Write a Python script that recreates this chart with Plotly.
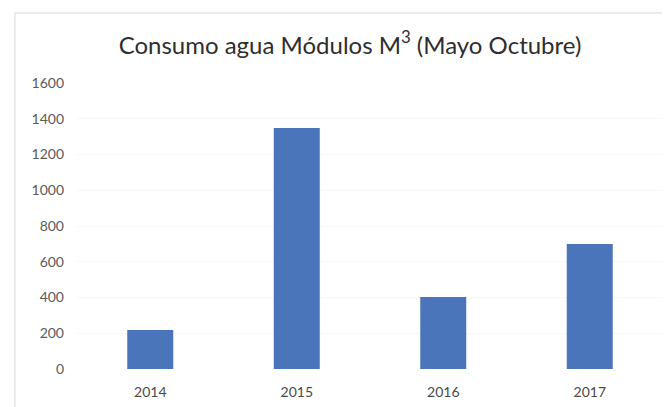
import plotly.graph_objects as go

years = ["2014", "2015", "2016", "2017"]
consumo = [218, 1348, 403, 699]
y_ticks = [0, 200, 400, 600, 800, 1000, 1200, 1400, 1600]

fig = go.Figure()
fig.add_trace(go.Bar(x=years, y=consumo, marker=dict(color="#4a75bb", line=dict(width=0)), width=0.314))

fig.update_layout(
    width=662, height=399,
    margin=dict(l=69, r=7, t=75, b=38),
    paper_bgcolor="white", plot_bgcolor="white",
    title=dict(text="Consumo agua Módulos M<sup>3</sup> (Mayo Octubre)", x=0.5166, xanchor="center",
               y=0.907, yanchor="middle",
               font=dict(family="Lato", size=24, color="#2e2e2e")),
    showlegend=False,
    xaxis=dict(showgrid=False, showline=False, ticks="", tickfont=dict(family="Lato", size=14, color="#4a4a4a"),
               ticklabelstandoff=13),
    yaxis=dict(range=[0, 1600], tickvals=y_ticks, showgrid=True, gridcolor="#f8f8f8", zeroline=False,
               showline=False, tickfont=dict(family="Lato", size=14, color="#5a5a5a"), ticklabelstandoff=12),
    shapes=[
        dict(type="line", xref="paper", yref="paper", x0=-0.106, x1=1.012, y0=1.245, y1=1.245,
             line=dict(color="#e4e4e4", width=1.5)),
        dict(type="line", xref="paper", yref="paper", x0=-0.106, x1=-0.106, y0=-0.133, y1=1.245,
             line=dict(color="#e4e4e4", width=1.5)),
    ],
)

fig.write_html("out.html")
